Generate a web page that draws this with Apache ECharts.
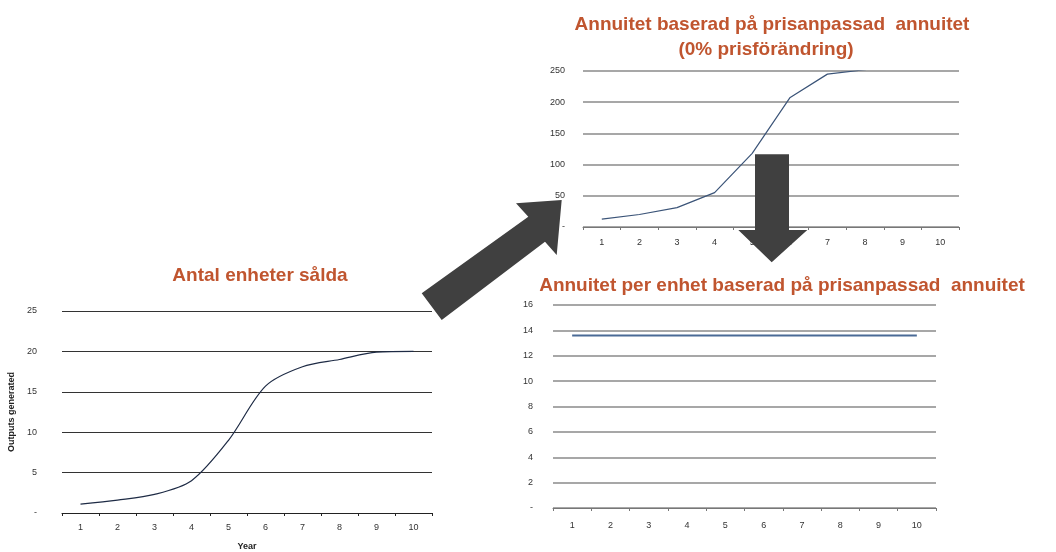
<!DOCTYPE html>
<html>
<head>
<meta charset="utf-8">
<script src="https://cdn.jsdelivr.net/npm/echarts@6/dist/echarts.min.js"></script>
<style>
  html, body { margin: 0; padding: 0; background: #ffffff; }
  #chart { width: 1056px; height: 552px; }
</style>
</head>
<body>
<div id="chart"></div>
<script>
// Years on every x axis
const years = ['1', '2', '3', '4', '5', '6', '7', '8', '9', '10'];

// Units sold per year (S-curve)
const unitsSold = [1.1, 1.6, 2.3, 4.0, 9.0, 15.7, 18.1, 19.0, 19.9, 20.0];

// Annuity based on the price-adjusted annuity (0% price change); values above 250 run off the axis
const annuityTotal = [12.5, 20, 31, 55, 118, 207, 245, 252, 266, 266];

// Annuity per unit (flat)
const annuityPerUnit = [13.6, 13.6, 13.6, 13.6, 13.6, 13.6, 13.6, 13.6, 13.6, 13.6];

// Titles and axis names
const titleUnits = 'Antal enheter sålda';
const titleTotal1 = 'Annuitet baserad på prisanpassad  annuitet';
const titleTotal2 = '(0% prisförändring)';
const titlePerUnit = 'Annuitet per enhet baserad på prisanpassad  annuitet';
const xName = 'Year';
const yName = 'Outputs generated';

const FONT = '"Liberation Sans", Arial, sans-serif';
const TITLE_COLOR = '#c0552f';
const ARROW_COLOR = '#404040';

const zeroDash = v => (v === 0 ? '-' : String(v));

function xAxisFor(gridIndex, lineColor, margin, extra) {
  return Object.assign({
    type: 'category',
    gridIndex: gridIndex,
    data: years,
    boundaryGap: true,
    axisLine: { show: true, lineStyle: { color: lineColor, width: 1 } },
    axisTick: { show: true, length: 3, lineStyle: { color: lineColor } },
    axisLabel: { color: '#333', fontSize: 9, fontFamily: FONT, margin: margin },
    splitLine: { show: false }
  }, extra || {});
}

function yAxisFor(gridIndex, max, interval, gridColor, gridWidth, margin, extra) {
  return Object.assign({
    type: 'value',
    gridIndex: gridIndex,
    min: 0,
    max: max,
    interval: interval,
    axisLine: { show: false },
    axisTick: { show: false },
    axisLabel: { color: '#333', fontSize: 9, fontFamily: FONT, margin: margin, formatter: zeroDash },
    splitLine: { show: true, lineStyle: { color: gridColor, width: gridWidth } }
  }, extra || {});
}

function titleText(text, x, y) {
  return {
    type: 'text',
    x: x, y: y,
    silent: true,
    style: {
      text: text,
      fill: TITLE_COLOR,
      font: 'bold 19px ' + FONT,
      textAlign: 'center',
      textVerticalAlign: 'middle'
    }
  };
}

const chart = echarts.init(document.getElementById('chart'), null, { renderer: 'canvas' });

chart.setOption({
  animation: false,
  backgroundColor: '#ffffff',
  grid: [
    { left: 62, top: 311, width: 370, height: 205 },
    { left: 583, top: 71, width: 376, height: 156 },
    { left: 553, top: 305, width: 383, height: 203 }
  ],
  xAxis: [
    xAxisFor(0, '#222', 10, {
      name: xName,
      nameLocation: 'middle',
      nameGap: 29,
      nameTextStyle: { color: '#222', fontSize: 9, fontWeight: 'bold', fontFamily: FONT }
    }),
    xAxisFor(1, '#777', 11),
    xAxisFor(2, '#777', 13)
  ],
  yAxis: [
    yAxisFor(0, 25, 5, '#333', 1, 25, {
      name: yName,
      nameLocation: 'middle',
      nameGap: 46,
      nameRotate: 90,
      nameTextStyle: { color: '#222', fontSize: 9, fontWeight: 'bold', fontFamily: FONT }
    }),
    yAxisFor(1, 250, 50, '#8a8a8a', 1.5, 18),
    yAxisFor(2, 16, 2, '#8a8a8a', 1.5, 20)
  ],
  series: [
    {
      type: 'line',
      xAxisIndex: 0, yAxisIndex: 0,
      data: unitsSold,
      smooth: 0.3,
      showSymbol: false,
      lineStyle: { color: '#1e2b45', width: 1.2 }
    },
    {
      type: 'line',
      xAxisIndex: 1, yAxisIndex: 1,
      data: annuityTotal,
      clip: true,
      showSymbol: false,
      lineStyle: { color: '#3b5478', width: 1.2 }
    },
    {
      type: 'line',
      xAxisIndex: 2, yAxisIndex: 2,
      data: annuityPerUnit,
      showSymbol: false,
      lineStyle: { color: '#4a6a96', width: 2 }
    }
  ],
  graphic: [
    titleText(titleUnits, 260, 276),
    titleText(titleTotal1, 772, 25),
    titleText(titleTotal2, 766, 50),
    titleText(titlePerUnit, 782, 286),
    {
      // arrow from the units chart up to the annuity chart
      type: 'polygon',
      z: 100,
      silent: true,
      shape: {
        points: [
          [421.7, 293.3], [528.3, 216.7], [516, 203.3], [561.7, 200],
          [556.7, 255], [545, 241.7], [441.7, 320]
        ]
      },
      style: { fill: ARROW_COLOR }
    },
    {
      // arrow from the annuity chart down to the per-unit chart
      type: 'polygon',
      z: 100,
      silent: true,
      shape: {
        points: [
          [755, 154.3], [789, 154.3], [789, 230], [807.3, 230],
          [771.7, 262.3], [738.3, 230], [755, 230]
        ]
      },
      style: { fill: ARROW_COLOR }
    }
  ]
});
</script>
</body>
</html>
